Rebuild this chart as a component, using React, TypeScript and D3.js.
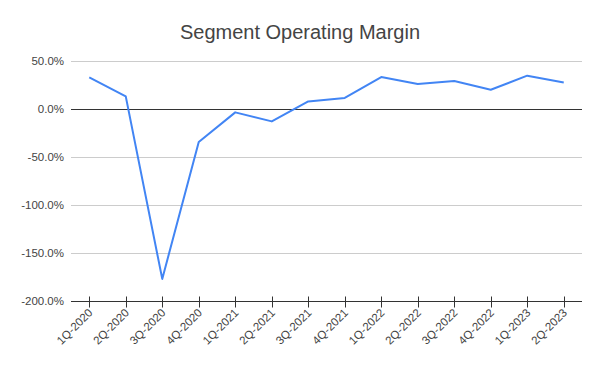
import React, { useEffect, useRef } from 'react';
import * as d3 from 'd3';

const quarters = [
  '1Q-2020', '2Q-2020', '3Q-2020', '4Q-2020',
  '1Q-2021', '2Q-2021', '3Q-2021', '4Q-2021',
  '1Q-2022', '2Q-2022', '3Q-2022', '4Q-2022',
  '1Q-2023', '2Q-2023',
];
// operating margin in percent
const margins = [32.9, 13.1, -177, -34.4, -3.5, -12.9, 7.9, 11.5, 33.3, 26.0, 29.2, 20.1, 34.7, 27.7];
const yTicks = [50, 0, -50, -100, -150, -200];

const App: React.FC = () => {
  const ref = useRef<SVGSVGElement>(null);

  useEffect(() => {
    if (!ref.current) return;
    const svg = d3.select(ref.current);
    svg.selectAll('*').remove();

    const width = 600;
    const height = 371;
    const margin = { top: 61, right: 18, bottom: 70, left: 71 };
    const font = 'Liberation Sans, Arial, sans-serif';

    svg.append('rect').attr('width', width).attr('height', height).attr('fill', '#fff');

    const x = d3.scaleBand<string>()
      .domain(quarters)
      .range([margin.left, width - margin.right]);

    const y = d3.scaleLinear()
      .domain([-200, 50])
      .range([height - margin.bottom, margin.top]);

    // Gridlines
    svg.append('g')
      .selectAll('line')
      .data(yTicks.filter(t => t !== 0 && t !== -200))
      .enter()
      .append('line')
      .attr('x1', margin.left)
      .attr('x2', width - margin.right)
      .attr('y1', d => Math.round(y(d)) + 0.5)
      .attr('y2', d => Math.round(y(d)) + 0.5)
      .attr('stroke', '#cccccc')
      .attr('stroke-width', 1);

    // Zero line
    svg.append('line')
      .attr('x1', margin.left)
      .attr('x2', width - margin.right)
      .attr('y1', Math.round(y(0)) + 0.5)
      .attr('y2', Math.round(y(0)) + 0.5)
      .attr('stroke', '#333333');

    // Y labels
    svg.append('g')
      .selectAll('text')
      .data(yTicks)
      .enter()
      .append('text')
      .attr('x', margin.left - 7)
      .attr('y', d => y(d) + 4)
      .attr('text-anchor', 'end')
      .style('font-family', font)
      .style('font-size', '11.5px')
      .attr('fill', '#444444')
      .text(d => `${d.toFixed(1)}%`);

    // X axis
    const axisY = Math.round(y(-200)) + 0.5;
    svg.append('line')
      .attr('x1', margin.left)
      .attr('x2', width - margin.right)
      .attr('y1', axisY)
      .attr('y2', axisY)
      .attr('stroke', '#333333');

    const cx = (q: string) => (x(q) || 0) + x.bandwidth() / 2;

    svg.append('g')
      .selectAll('line')
      .data(quarters)
      .enter()
      .append('line')
      .attr('x1', d => Math.round(cx(d)) + 0.5)
      .attr('x2', d => Math.round(cx(d)) + 0.5)
      .attr('y1', axisY - 5)
      .attr('y2', axisY + 6)
      .attr('stroke', '#333333');

    svg.append('g')
      .selectAll('text')
      .data(quarters)
      .enter()
      .append('text')
      .attr('transform', d => `translate(${cx(d) + 4},${axisY + 12}) rotate(-45)`)
      .attr('text-anchor', 'end')
      .style('font-family', font)
      .style('font-size', '11.5px')
      .attr('fill', '#444444')
      .text(d => d);

    // Line
    const line = d3.line<number>()
      .x((_, i) => cx(quarters[i]))
      .y(d => y(d));

    svg.append('path')
      .datum(margins)
      .attr('d', line)
      .attr('fill', 'none')
      .attr('stroke', '#4285f4')
      .attr('stroke-width', 2)
      .attr('stroke-linejoin', 'round');

    // Title
    svg.append('text')
      .attr('x', width / 2)
      .attr('y', 39)
      .attr('text-anchor', 'middle')
      .style('font-family', font)
      .style('font-size', '20px')
      .attr('fill', '#444444')
      .text('Segment Operating Margin');
  }, []);

  return (
    <svg ref={ref} width={600} height={371} style={{ position: 'absolute', left: 0, top: 0 }} />
  );
};

export default App;
